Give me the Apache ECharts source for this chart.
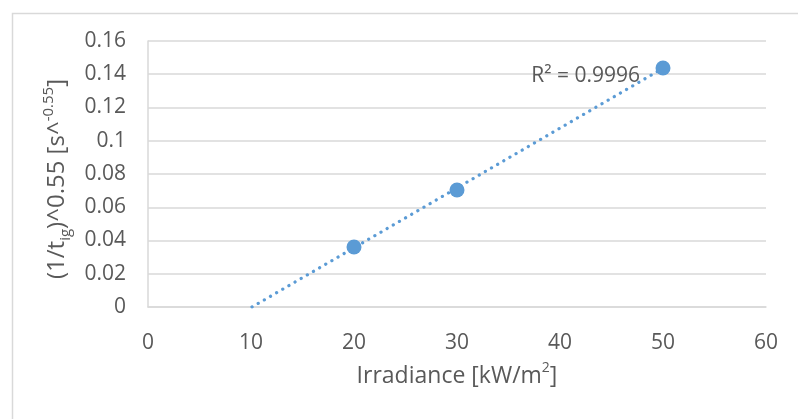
<!DOCTYPE html>
<html><head><meta charset="utf-8">
<script src="https://cdn.jsdelivr.net/npm/echarts@6/dist/echarts.min.js"></script>
<style>html,body{margin:0;padding:0;background:#fff}#c{width:798px;height:419px}</style>
</head><body><div id="c"></div>
<script>
// Data
const irradiance = [20, 30, 50];
const ignitionTerm = [0.0361, 0.0704, 0.1438];
const trendX = [10.1, 50];
const trendY = [0, 0.1436];
const rSquaredText = 'R² = 0.9996';
const xTicks = [0, 10, 20, 30, 40, 50, 60];
const yTicks = [0, 0.02, 0.04, 0.06, 0.08, 0.1, 0.12, 0.14, 0.16];

const blue = '#5B9BD5';
const txt = '#595959';
const FONT = 'Open Sans';

const chart = echarts.init(document.getElementById('c'), null, {renderer: 'canvas'});
const border = {type: 'rect', left: 10, top: 11, shape: {width: 800, height: 420},
  style: {fill: 'none', stroke: '#D9D9D9', lineWidth: 1.5}, silent: true, z: -10};
const option = {
  animation: false,
  backgroundColor: '#fff',
  grid: {left: 148, right: 32, top: 41, bottom: 112, containLabel: false},
  xAxis: {
    type: 'value', min: xTicks[0], max: xTicks[xTicks.length - 1], interval: 10,
    name: '{m|Irradiance [kW/m}{s|2}{m|]}',
    nameLocation: 'middle', nameGap: 54,
    nameTextStyle: {rich: {
      m: {fontFamily: FONT, fontSize: 23, color: txt, lineHeight: 30},
      s: {fontFamily: FONT, fontSize: 14, color: txt, lineHeight: 16, verticalAlign: 'top'}
    }},
    axisLine: {show: true, lineStyle: {color: '#D9D9D9', width: 1.5}},
    axisTick: {show: false},
    splitLine: {show: false},
    axisLabel: {fontFamily: FONT, fontSize: 21, color: txt, margin: 26}
  },
  yAxis: {
    type: 'value', min: yTicks[0], max: yTicks[yTicks.length - 1], interval: 0.02,
    name: '{m|(1/t}{b|ig}{m|)^0.55 [s^}{s|-0.55}{m|]}',
    nameLocation: 'middle', nameGap: 71, nameRotate: 90,
    nameTextStyle: {padding: [0, 10, 0, 0], rich: {
      m: {fontFamily: FONT, fontSize: 24, color: txt, lineHeight: 32},
      b: {fontFamily: FONT, fontSize: 15, color: txt, lineHeight: 16, verticalAlign: 'bottom'},
      s: {fontFamily: FONT, fontSize: 15, color: txt, lineHeight: 16, verticalAlign: 'top'}
    }},
    axisLine: {show: true, lineStyle: {color: '#D9D9D9', width: 1.5}},
    axisTick: {show: false},
    splitLine: {show: true, lineStyle: {color: '#D9D9D9', width: 1.5}},
    axisLabel: {fontFamily: FONT, fontSize: 21, color: txt, margin: 22,
      formatter: v => String(parseFloat(v.toFixed(2)))}
  },
  series: [
    {
      type: 'line', data: trendX.map((x, i) => [x, trendY[i]]),
      symbol: 'none', silent: true, z: 2,
      lineStyle: {color: blue, width: 3.2, type: [0.1, 7], cap: 'round'}
    },
    {
      type: 'scatter', data: irradiance.map((x, i) => [x, ignitionTerm[i]]),
      symbolSize: 15, z: 3,
      itemStyle: {color: blue, opacity: 1}
    }
  ],
  graphic: [border]
};
chart.setOption(option);
const p = chart.convertToPixel({gridIndex: 0}, [trendX[1], trendY[1]]);
chart.setOption({graphic: [
  border,
  {type: 'text', x: p[0] - 23, y: p[1] + 8, z: 10,
   style: {text: rSquaredText, fontFamily: FONT, fontSize: 21, fill: txt, align: 'right', verticalAlign: 'middle'}}
]});
</script></body></html>
